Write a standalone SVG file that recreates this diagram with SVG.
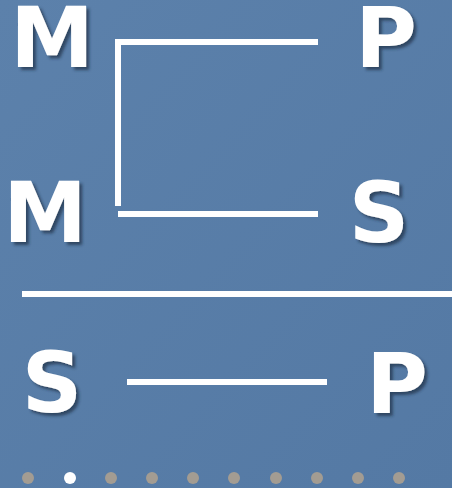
<svg xmlns="http://www.w3.org/2000/svg" width="452" height="488" viewBox="0 0 452 488">
<defs>
<linearGradient id="bg" x1="0" y1="0" x2="1" y2="1">
<stop offset="0" stop-color="#5c81ab"/>
<stop offset="1" stop-color="#5479a4"/>
</linearGradient>
<filter id="sh" x="-10%" y="-10%" width="130%" height="130%">
<feGaussianBlur in="SourceAlpha" stdDeviation="1.5"/>
<feOffset dx="3" dy="3" result="b"/>
<feFlood flood-color="#1e2f45" flood-opacity="0.7"/>
<feComposite in2="b" operator="in"/>
<feMerge><feMergeNode/><feMergeNode in="SourceGraphic"/></feMerge>
</filter>
</defs>
<style>
.l{font-family:"DejaVu Sans","Liberation Sans",sans-serif;font-weight:bold;font-size:84px;fill:#ffffff;text-anchor:middle;filter:url(#sh)}
.c{stroke:#ffffff;stroke-width:6;fill:none}
.d{fill:#a39c92}
</style>
<rect width="452" height="488" fill="url(#bg)"/>
<g id="m1"><text class="l" x="52" y="67">M</text></g>
<g id="p1"><text class="l" x="386" y="67">P</text></g>
<g id="m2"><text class="l" x="45" y="242">M</text></g>
<g id="s1"><text class="l" x="379" y="242">S</text></g>
<g id="s2"><text class="l" x="52" y="412">S</text></g>
<g id="p2"><text class="l" x="397" y="413">P</text></g>
<g id="connectors">
<path class="c" d="M318 42 H118 V206"/>
<path class="c" d="M118 214 H318"/>
<path class="c" d="M22 294 H452"/>
<path class="c" d="M127 382 H327"/>
</g>
<g id="dots">
<circle class="d" cx="28" cy="478" r="6"/>
<circle cx="70" cy="478" r="6" fill="#ffffff"/>
<circle class="d" cx="111" cy="478" r="6"/>
<circle class="d" cx="152" cy="478" r="6"/>
<circle class="d" cx="193" cy="478" r="6"/>
<circle class="d" cx="234" cy="478" r="6"/>
<circle class="d" cx="276" cy="478" r="6"/>
<circle class="d" cx="317" cy="478" r="6"/>
<circle class="d" cx="358" cy="478" r="6"/>
<circle class="d" cx="399" cy="478" r="6"/>
</g>
</svg>
